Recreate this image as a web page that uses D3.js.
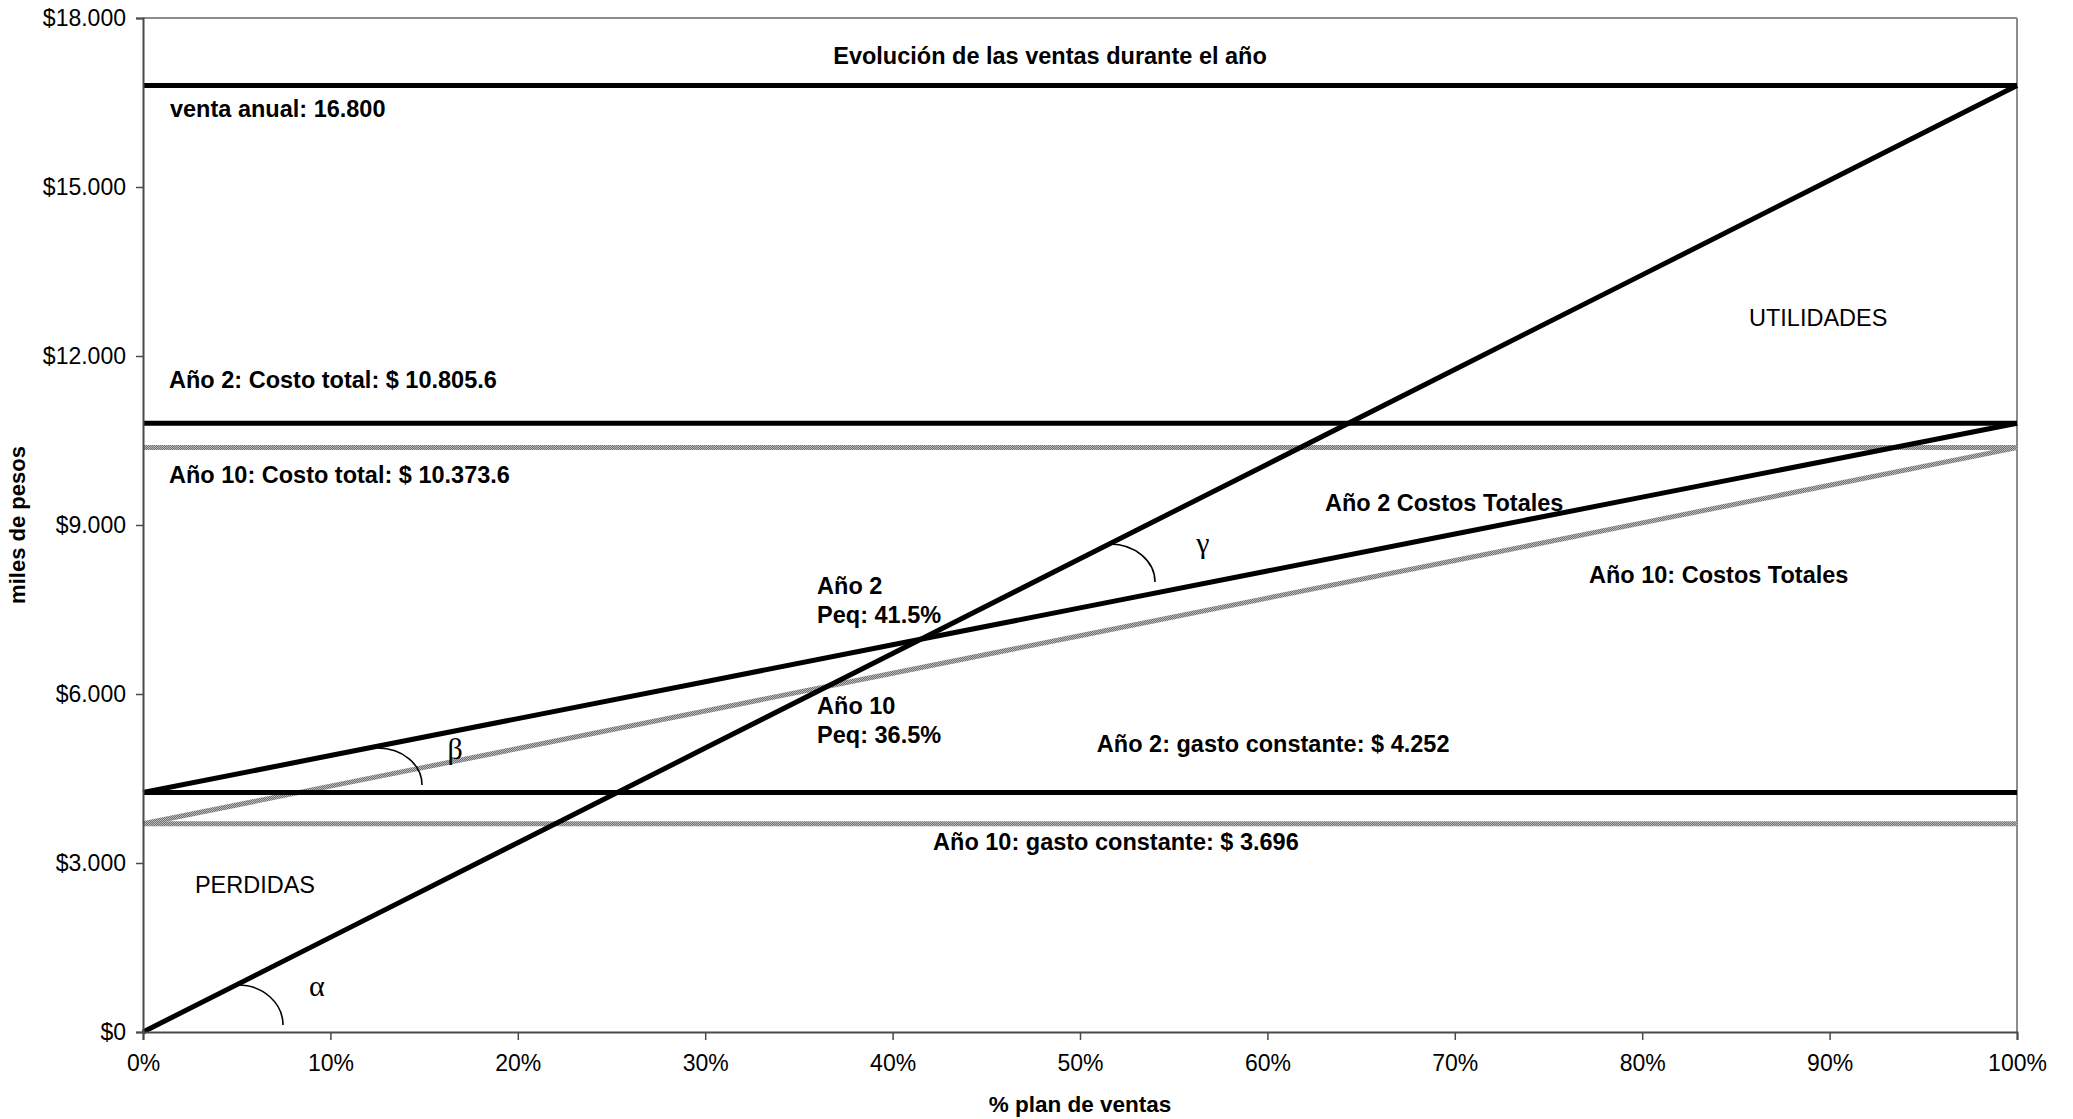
<!DOCTYPE html>
<html>
<head>
<meta charset="utf-8">
<script src="https://cdn.jsdelivr.net/npm/d3@7"></script>
<style>
  body { margin: 0; background: #fff; }
  text { font-family: "Liberation Sans", Arial, sans-serif; }
</style>
</head>
<body>
<div id="chart"></div>
<script>
// 1: DATA
const planPct = [0, 10, 20, 30, 40, 50, 60, 70, 80, 90, 100];
const ventas = [0, 1680, 3360, 5040, 6720, 8400, 10080, 11760, 13440, 15120, 16800];
const ventaAnual = [16800, 16800, 16800, 16800, 16800, 16800, 16800, 16800, 16800, 16800, 16800];
const costoTotal2 = [10805.6, 10805.6, 10805.6, 10805.6, 10805.6, 10805.6, 10805.6, 10805.6, 10805.6, 10805.6, 10805.6];
const costoTotal10 = [10373.6, 10373.6, 10373.6, 10373.6, 10373.6, 10373.6, 10373.6, 10373.6, 10373.6, 10373.6, 10373.6];
const costos2 = [4252, 4907.4, 5562.7, 6218.1, 6873.4, 7528.8, 8184.2, 8839.5, 9494.9, 10150.2, 10805.6];
const costos10 = [3696, 4363.8, 5031.5, 5699.3, 6367.0, 7034.8, 7702.6, 8370.3, 9038.1, 9705.8, 10373.6];
const gasto2 = [4252, 4252, 4252, 4252, 4252, 4252, 4252, 4252, 4252, 4252, 4252];
const gasto10 = [3696, 3696, 3696, 3696, 3696, 3696, 3696, 3696, 3696, 3696, 3696];
const yTicks = [0, 3000, 6000, 9000, 12000, 15000, 18000];

// text notes placed in data units (x = % plan, y = pesos)
const notes = [
  { t: "Evolución de las ventas durante el año", x: 48.4, y: 17180, bold: true, anchor: "middle" },
  { t: "venta anual: 16.800", x: 1.44, y: 16240, bold: true },
  { t: "UTILIDADES", x: 85.7, y: 12530, bold: false },
  { t: "Año 2: Costo total: $ 10.805.6", x: 1.39, y: 11440, bold: true },
  { t: "Año 10: Costo total: $ 10.373.6", x: 1.39, y: 9740, bold: true },
  { t: "Año 2 Costos Totales", x: 63.07, y: 9246, bold: true },
  { t: "Año 10: Costos Totales", x: 77.16, y: 7968, bold: true },
  { t: "Año 2", x: 35.97, y: 7773, bold: true },
  { t: "Peq: 41.5%", x: 35.97, y: 7258, bold: true },
  { t: "Año 10", x: 35.97, y: 5643, bold: true },
  { t: "Peq: 36.5%", x: 35.97, y: 5128, bold: true },
  { t: "Año 2: gasto constante: $ 4.252", x: 50.9, y: 4968, bold: true },
  { t: "Año 10: gasto constante: $ 3.696", x: 42.16, y: 3228, bold: true },
  { t: "PERDIDAS", x: 2.77, y: 2465, bold: false }
];

// angle arcs (center in data units, radius in px) and greek labels
const arcs = [
  { x: 5.07, y: 124, rx: 45, ry: 40 },
  { x: 12.54, y: 4385, rx: 44, ry: 37 },
  { x: 51.6, y: 7988, rx: 45, ry: 38 }
];
const greek = [
  { t: "α", x: 9.28, y: 817 },
  { t: "β", x: 16.65, y: 5041 },
  { t: "γ", x: 56.56, y: 8698 }
];

// 2: SETUP
const W = 2073, H = 1119;
const margin = { top: 18, right: 56, bottom: 87, left: 143 };
const width = W - margin.left - margin.right;
const height = H - margin.top - margin.bottom;

const svgRoot = d3.select("#chart").append("svg")
  .attr("width", W)
  .attr("height", H);

// dithered gray for the "Año 10" series
const pat = svgRoot.append("defs").append("pattern")
  .attr("id", "grayDither")
  .attr("patternUnits", "userSpaceOnUse")
  .attr("width", 2).attr("height", 2);
pat.append("rect").attr("width", 2).attr("height", 2).attr("fill", "#bcbcbc");
pat.append("rect").attr("width", 1).attr("height", 1).attr("fill", "#6e6e6e");
pat.append("rect").attr("x", 1).attr("y", 1).attr("width", 1).attr("height", 1).attr("fill", "#6e6e6e");

const svg = svgRoot.append("g")
  .attr("transform", `translate(${margin.left},${margin.top})`);

// 3: SCALES
const x = d3.scaleLinear().domain([0, 100]).range([0, width]);
const y = d3.scaleLinear().domain([0, 18000]).range([height, 0]);

const loc = d3.formatLocale({ decimal: ",", thousands: ".", grouping: [3], currency: ["$", ""] });
const fmtMoney = loc.format("$,.0f");

// plot frame (top/right lighter)
svg.append("line").attr("x1", 0).attr("x2", width).attr("y1", 0).attr("y2", 0)
  .attr("stroke", "#8c8c8c").attr("stroke-width", 2);
svg.append("line").attr("x1", width).attr("x2", width).attr("y1", 0).attr("y2", height)
  .attr("stroke", "#8c8c8c").attr("stroke-width", 2);

// 4: LINES
const line = d3.line()
  .x((d, i) => x(planPct[i]))
  .y(d => y(d));

const grayS = [gasto10, costoTotal10, costos10];
const blackS = [gasto2, costoTotal2, costos2, ventaAnual, ventas];

svg.selectAll(".gray-line")
  .data(grayS)
  .enter()
  .append("path")
  .attr("class", "gray-line")
  .attr("fill", "none")
  .attr("stroke", "url(#grayDither)")
  .attr("stroke-width", 5)
  .attr("d", line);

svg.selectAll(".black-line")
  .data(blackS)
  .enter()
  .append("path")
  .attr("class", "black-line")
  .attr("fill", "none")
  .attr("stroke", "#000")
  .attr("stroke-width", 5)
  .attr("d", line);

// 5: AXES
const yAxis = svg.append("g")
  .call(d3.axisLeft(y).tickValues(yTicks).tickSize(7).tickPadding(10).tickFormat(fmtMoney));
const xAxis = svg.append("g")
  .attr("transform", `translate(0,${height})`)
  .call(d3.axisBottom(x).tickValues(planPct).tickSize(8).tickPadding(15).tickFormat(d => d + "%"));

[yAxis, xAxis].forEach(a => {
  a.select(".domain").attr("stroke", "#4a4a4a").attr("stroke-width", 2);
  a.selectAll(".tick line").attr("stroke", "#4a4a4a").attr("stroke-width", 1.5);
  a.selectAll(".tick text")
    .attr("fill", "#000")
    .style("font-family", "'Liberation Sans', Arial, sans-serif")
    .style("font-size", "23px");
});

// 6: ANNOTATIONS
svg.selectAll(".note")
  .data(notes)
  .enter()
  .append("text")
  .attr("class", "note")
  .attr("x", d => x(d.x))
  .attr("y", d => y(d.y))
  .attr("text-anchor", d => d.anchor || "start")
  .style("font-size", "23.5px")
  .style("font-weight", d => d.bold ? "bold" : "normal")
  .text(d => d.t);

svg.selectAll(".angle")
  .data(arcs)
  .enter()
  .append("path")
  .attr("class", "angle")
  .attr("fill", "none")
  .attr("stroke", "#000")
  .attr("stroke-width", 1.6)
  .attr("d", d => {
    const cx = x(d.x), cy = y(d.y);
    return `M${cx},${cy - d.ry} A${d.rx},${d.ry} 0 0 1 ${cx + d.rx},${cy}`;
  });

svg.selectAll(".greek")
  .data(greek)
  .enter()
  .append("text")
  .attr("class", "greek")
  .attr("x", d => x(d.x))
  .attr("y", d => y(d.y))
  .attr("text-anchor", "middle")
  .attr("dominant-baseline", "central")
  .style("font-family", "'Liberation Serif', 'DejaVu Serif', serif")
  .style("font-size", "30px")
  .text(d => d.t);

// axis titles
svg.append("text")
  .attr("x", width / 2)
  .attr("y", height + 80)
  .attr("text-anchor", "middle")
  .style("font-size", "22.5px")
  .style("font-weight", "bold")
  .text("% plan de ventas");

svg.append("text")
  .attr("transform", "rotate(-90)")
  .attr("x", -height / 2)
  .attr("y", -118)
  .attr("text-anchor", "middle")
  .style("font-size", "22px")
  .style("font-weight", "bold")
  .text("miles de pesos");
</script>
</body>
</html>
